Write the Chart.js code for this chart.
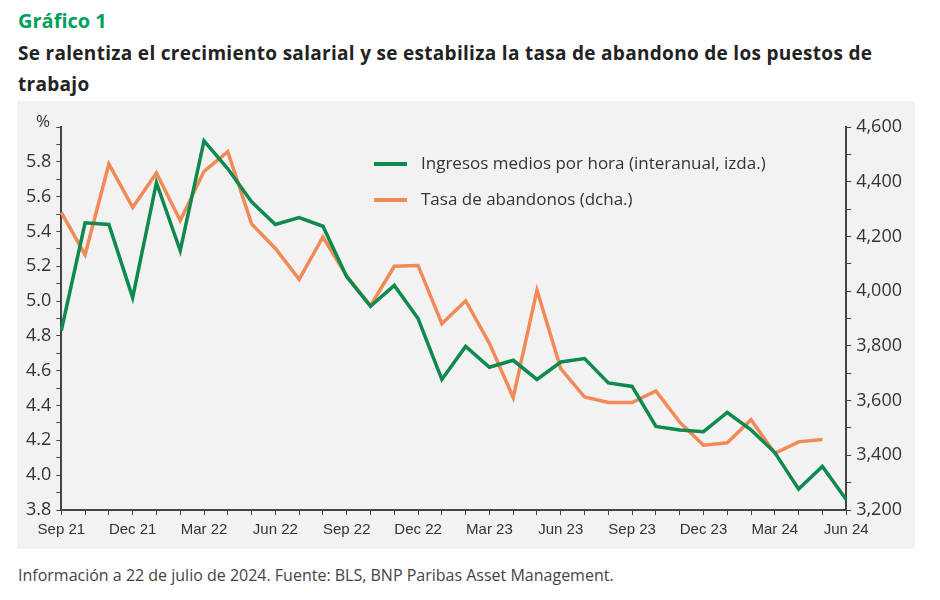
<!DOCTYPE html>
<html>
<head>
<meta charset="utf-8">
<script src="https://cdn.jsdelivr.net/npm/chart.js@4"></script>
<style>
  body { margin: 0; background: #fff; font-family: "Open Sans", "Noto Sans", sans-serif; width: 940px; height: 600px; position: relative; }
  #t1 { position: absolute; left: 18px; top: 7px; color: #00a05a; font-weight: bold; font-size: 20px; }
  #t2 { position: absolute; left: 18px; top: 38px; width: 900px; color: #222; font-weight: bold; font-size: 19px; line-height: 31px; letter-spacing: 0.3px; }
  #box { position: absolute; left: 17px; top: 101px; width: 898px; height: 448px; background: #f2f2f2; }
  #foot { position: absolute; left: 18px; top: 564px; color: #444; font-size: 16px; }
</style>
</head>
<body>
<div id="t1">Gráfico 1</div>
<div id="t2">Se ralentiza el crecimiento salarial y se estabiliza la tasa de abandono de los puestos de trabajo</div>
<div id="box"><canvas id="c"></canvas></div>
<div id="foot">Información a 22 de julio de 2024. Fuente: BLS, BNP Paribas Asset Management.</div>
<script>
// meses Sep 21 .. Jun 24
const months = ['Sep 21','Oct 21','Nov 21','Dec 21','Jan 22','Feb 22','Mar 22','Apr 22','May 22','Jun 22','Jul 22','Aug 22',
  'Sep 22','Oct 22','Nov 22','Dec 22','Jan 23','Feb 23','Mar 23','Apr 23','May 23','Jun 23','Jul 23','Aug 23',
  'Sep 23','Oct 23','Nov 23','Dec 23','Jan 24','Feb 24','Mar 24','Apr 24','May 24','Jun 24'];
const shownLabels = ['Sep 21','Dec 21','Mar 22','Jun 22','Sep 22','Dec 22','Mar 23','Jun 23','Sep 23','Dec 23','Mar 24','Jun 24'];

// ingresos medios por hora, % interanual (izda.)
const earnings = [4.83,5.45,5.44,5.02,5.68,5.29,5.92,5.76,5.57,5.44,5.48,5.43,
  5.14,4.97,5.09,4.90,4.55,4.74,4.62,4.66,4.55,4.65,4.67,4.53,
  4.51,4.28,4.26,4.25,4.36,4.26,4.13,3.92,4.05,3.86];
// tasa de abandonos, miles (dcha.)
const quits = [4288,4133,4465,4306,4432,4258,4438,4510,4246,4156,4043,4198,
  4055,3947,4091,4094,3881,3965,3809,3611,4004,3717,3613,3593,
  3593,3635,3521,3437,3446,3530,3407,3449,3458,null];

const green = '#0f8a4f';
const orange = '#f28a58';
const axisCol = '#444';

const legendPlugin = {
  id: 'inLegend',
  afterDraw(chart) {
    const ctx = chart.ctx;
    const items = [[green, 'Ingresos medios por hora (interanual, izda.)'], [orange, 'Tasa de abandonos (dcha.)']];
    ctx.save();
    ctx.font = '17px "Open Sans", sans-serif';
    ctx.textBaseline = 'middle';
    items.forEach((it, i) => {
      const y = 63 + i * 36;
      ctx.strokeStyle = it[0];
      ctx.lineWidth = 4;
      ctx.beginPath(); ctx.moveTo(357, y); ctx.lineTo(390, y); ctx.stroke();
      ctx.fillStyle = '#333';
      ctx.fillText(it[1], 404, y);
    });
    ctx.restore();
  }
};

new Chart(document.getElementById('c'), {
  type: 'line',
  data: {
    labels: months,
    datasets: [
      { label: 'Ingresos medios por hora (interanual, izda.)', data: earnings, borderColor: green, borderWidth: 3.5, pointRadius: 0, tension: 0, yAxisID: 'y' },
      { label: 'Tasa de abandonos (dcha.)', data: quits, borderColor: orange, borderWidth: 3.5, pointRadius: 0, tension: 0, yAxisID: 'y1' }
    ]
  },
  options: {
    responsive: true,
    maintainAspectRatio: false,
    animation: false,
    layout: { padding: { left: 4, right: 8, top: 26, bottom: 4 } },
    plugins: { legend: { display: false }, tooltip: { enabled: false } },
    scales: {
      x: {
        offset: false,
        grid: { drawOnChartArea: false, drawTicks: true, tickLength: 5, color: axisCol },
        border: { color: axisCol, width: 2 },
        ticks: { autoSkip: false, maxRotation: 0, padding: 6, color: '#333', font: { family: '"Liberation Sans Narrow", sans-serif', size: 15 },
          callback: function (v) { const l = this.getLabelForValue(v); return shownLabels.includes(l) ? l : ''; } }
      },
      y: {
        position: 'left', min: 3.8, max: 6.0,
        grid: { drawOnChartArea: false, tickLength: 5, color: axisCol },
        border: { color: axisCol, width: 2 },
        ticks: { stepSize: 0.1, autoSkip: false, color: '#333', padding: 5, font: { family: '"Open Sans", sans-serif', size: 18 },
          callback: v => { const r = Math.round(v * 10); return (r % 2 === 0 && r < 60) ? (r / 10).toFixed(1) : ''; } }
      },
      y1: {
        position: 'right', min: 3200, max: 4600,
        grid: { drawOnChartArea: false, tickLength: 5, color: axisCol },
        border: { color: axisCol, width: 2 },
        ticks: { stepSize: 100, autoSkip: false, color: '#333', padding: 5, font: { family: '"Open Sans", sans-serif', size: 18 },
          callback: v => (Math.round(v) % 200 === 0) ? v.toLocaleString('en-US') : '' }
      }
    }
  },
  plugins: [legendPlugin, {
    id: 'pct',
    afterDraw(chart) {
      const ctx = chart.ctx;
      ctx.save();
      ctx.font = '17px "Open Sans", sans-serif';
      ctx.fillStyle = '#333';
      ctx.textAlign = 'center';
      ctx.fillText('%', chart.scales.y.left + 22, chart.scales.y.top);
      ctx.restore();
    }
  }]
});
</script>
</body>
</html>
